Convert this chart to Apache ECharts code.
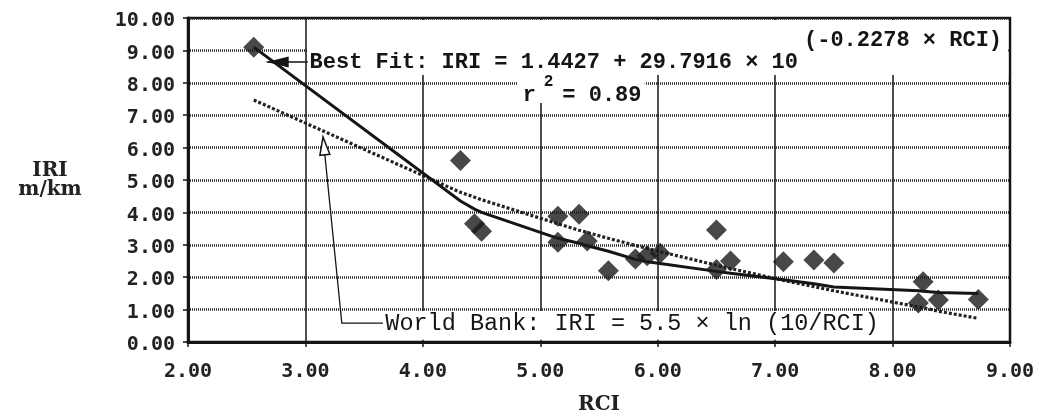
<!DOCTYPE html>
<html>
<head>
<meta charset="utf-8">
<script src="https://cdn.jsdelivr.net/npm/echarts@6/dist/echarts.min.js"></script>
<style>
  html, body { margin: 0; padding: 0; background: #fff; }
  #chart { width: 1042px; height: 415px; }
</style>
</head>
<body>
<div id="chart"></div>
<script>
// Observed road sections: ride condition index vs roughness
const rci = [2.56, 4.32, 4.44, 4.50, 5.15, 5.33, 5.15, 5.40, 5.58, 5.81, 5.91, 6.02,
             6.50, 6.50, 6.62, 7.07, 7.33, 7.50, 8.26, 8.22, 8.39, 8.73];
const iri = [9.10, 5.60, 3.65, 3.42, 3.88, 3.94, 3.08, 3.12, 2.20, 2.56, 2.66, 2.74,
             3.46, 2.24, 2.50, 2.48, 2.53, 2.44, 1.86, 1.20, 1.30, 1.31];

// Curves sampled at the sorted RCI values
const curveRci   = [2.56, 4.32, 4.44, 4.50, 5.15, 5.33, 5.40, 5.58, 5.81, 5.91, 6.02,
                    6.50, 6.62, 7.07, 7.33, 7.50, 8.22, 8.26, 8.39, 8.73];
const bestFitIri = [9.10, 4.35, 4.10, 4.00, 3.20, 3.05, 2.97, 2.80, 2.55, 2.48, 2.42,
                    2.18, 2.12, 1.92, 1.80, 1.70, 1.58, 1.57, 1.53, 1.50];
const worldBankIri = [7.47, 4.62, 4.47, 4.39, 3.65, 3.45, 3.38, 3.20, 2.98, 2.89, 2.79,
                      2.37, 2.27, 1.90, 1.71, 1.58, 1.08, 1.06, 0.95, 0.73];

// Axis ranges
const xRange = [2, 9, 1];
const yRange = [0, 10, 1];

// Annotation texts
const bestFitText = 'Best Fit: IRI = 1.4427 + 29.7916 \u00d7 10';
const bestFitExp = '(-0.2278 \u00d7 RCI)';
const r2Text = '= 0.89';
const worldBankText = 'World Bank: IRI = 5.5 \u00d7 ln (10/RCI)';

const pair = (xs, ys) => xs.map((x, i) => [x, ys[i]]);
const fmt2 = v => v.toFixed(2);

const chart = echarts.init(document.getElementById('chart'));
const ink = '#151515';
const tickFont = { fontFamily: 'DejaVu Sans Mono', fontWeight: 'bold', fontSize: 20, color: '#222' };
const titleFont = { fontFamily: 'DejaVu Serif', fontWeight: 'bold', fontSize: 20, color: '#222' };

chart.setOption({
  animation: false,
  backgroundColor: '#fff',
  grid: {
    left: 188, right: 32, top: 18, bottom: 73,
    show: true, borderColor: ink, borderWidth: 2.5,
    outerBoundsMode: 'none'
  },
  xAxis: {
    type: 'value', min: xRange[0], max: xRange[1], interval: xRange[2],
    name: 'RCI', nameLocation: 'middle', nameGap: 53, nameTextStyle: titleFont,
    axisLine: { onZero: false, lineStyle: { color: ink, width: 3 } },
    axisTick: { show: true, length: 5, lineStyle: { color: ink, width: 1.5 } },
    axisLabel: Object.assign({ margin: 20, formatter: fmt2 }, tickFont),
    splitLine: { show: true, lineStyle: { color: ink, width: 1.5, type: 'solid' } }
  },
  yAxis: {
    type: 'value', min: yRange[0], max: yRange[1], interval: yRange[2],
    name: 'IRI\nm/km', nameLocation: 'middle', nameRotate: 0, nameGap: 138,
    nameTextStyle: Object.assign({ align: 'center', verticalAlign: 'middle', lineHeight: 19 }, titleFont),
    axisLine: { onZero: false, lineStyle: { color: ink, width: 3 } },
    axisTick: { show: true, length: 5, lineStyle: { color: ink, width: 1.5 } },
    // labels sit a few pixels below their gridline
    axisLabel: Object.assign({ margin: 13, formatter: fmt2, verticalAlign: 'top', lineHeight: 6 }, tickFont),
    splitLine: { show: true, lineStyle: { color: '#262626', width: 2.5, type: [1, 1] } }
  },
  series: [
    {
      name: 'World Bank', type: 'line', z: 2, symbol: 'none',
      data: pair(curveRci, worldBankIri),
      lineStyle: { color: '#222', width: 3.2, type: [3, 2] }
    },
    {
      name: 'Best Fit', type: 'line', z: 2, symbol: 'none',
      data: pair(curveRci, bestFitIri),
      lineStyle: { color: ink, width: 3 }
    },
    {
      name: 'Observed', type: 'scatter', z: 3, symbol: 'diamond', symbolSize: 21,
      data: pair(rci, iri),
      itemStyle: { color: '#1a1a1a' }
    }
  ]
});

// ---- annotations, anchored in data units ----
const px = p => chart.convertToPixel({ gridIndex: 0 }, p);
const ctx = document.createElement('canvas').getContext('2d');
const textWidth = (s, font) => { ctx.font = font; return ctx.measureText(s).width; };

const fitFont = 'bold 22px "Liberation Mono"';
const supFont = 'bold 22px "Liberation Mono"';
const r2SupFont = 'bold 16px "Liberation Mono"';
const wbFont = '23.5px "Liberation Mono"';

const els = [];
function box(a, b) {
  const p = px(a), q = px(b);
  els.push({
    type: 'rect', z: 1, silent: true,
    shape: { x: Math.min(p[0], q[0]), y: Math.min(p[1], q[1]),
             width: Math.abs(q[0] - p[0]), height: Math.abs(q[1] - p[1]) },
    style: { fill: '#fff' }
  });
}
function label(x, y, s, font) {
  els.push({ type: 'text', z: 5, silent: true, x: x, y: y,
             style: { text: s, font: font, fill: ink, align: 'left', verticalAlign: 'middle' } });
}
function arrowHead(tip, from, len, half, hollow) {
  const dx = tip[0] - from[0], dy = tip[1] - from[1];
  const d = Math.hypot(dx, dy), ux = dx / d, uy = dy / d;
  const bx = tip[0] - ux * len, by = tip[1] - uy * len;
  els.push({
    type: 'polygon', z: 5, silent: true,
    shape: { points: [tip, [bx - uy * half, by + ux * half], [bx + uy * half, by - ux * half]] },
    style: hollow ? { fill: '#fff', stroke: ink, lineWidth: 1.5 } : { fill: ink }
  });
}

// white panels behind the labels
box([3.02, 9.94], [8.985, 8.24]);
box([4.81, 8.24], [5.89, 7.38]);
box([3.59, 0.96], [7.89, 0.07]);

// best-fit label with its exponent and pointer
const fitAt = px([3.035, 8.62]);
label(fitAt[0], fitAt[1], bestFitText, fitFont);
const expAt = px([3.035, 9.3]);
label(fitAt[0] + textWidth(bestFitText, fitFont) + 6, expAt[1], bestFitExp, supFont);
const fitTail = px([3.02, 8.64]), fitTip = px([2.67, 8.64]);
els.push({ type: 'polyline', z: 5, silent: true, shape: { points: [fitTail, fitTip] },
           style: { stroke: ink, lineWidth: 1.5 } });
arrowHead(fitTip, fitTail, 22, 5.5, false);

// r squared
const rAt = px([4.85, 7.6]);
label(rAt[0], rAt[1], 'r', fitFont);
const rSupAt = px([4.85, 8.02]);
label(rAt[0] + textWidth('r', fitFont) + 8, rSupAt[1], '2', r2SupFont);
label(rAt[0] + textWidth('r  ', fitFont), rAt[1], r2Text, fitFont);

// World Bank label and leader
const wbPts = [px([3.15, 6.33]), px([3.31, 0.58]), px([3.66, 0.58])];
els.push({ type: 'polyline', z: 5, silent: true, shape: { points: wbPts },
           style: { stroke: ink, lineWidth: 1.3, fill: null } });
arrowHead(wbPts[0], wbPts[1], 18, 5, true);
const wbAt = px([3.68, 0.56]);
label(wbAt[0], wbAt[1], worldBankText, wbFont);

chart.setOption({ graphic: { elements: els } });
</script>
</body>
</html>
